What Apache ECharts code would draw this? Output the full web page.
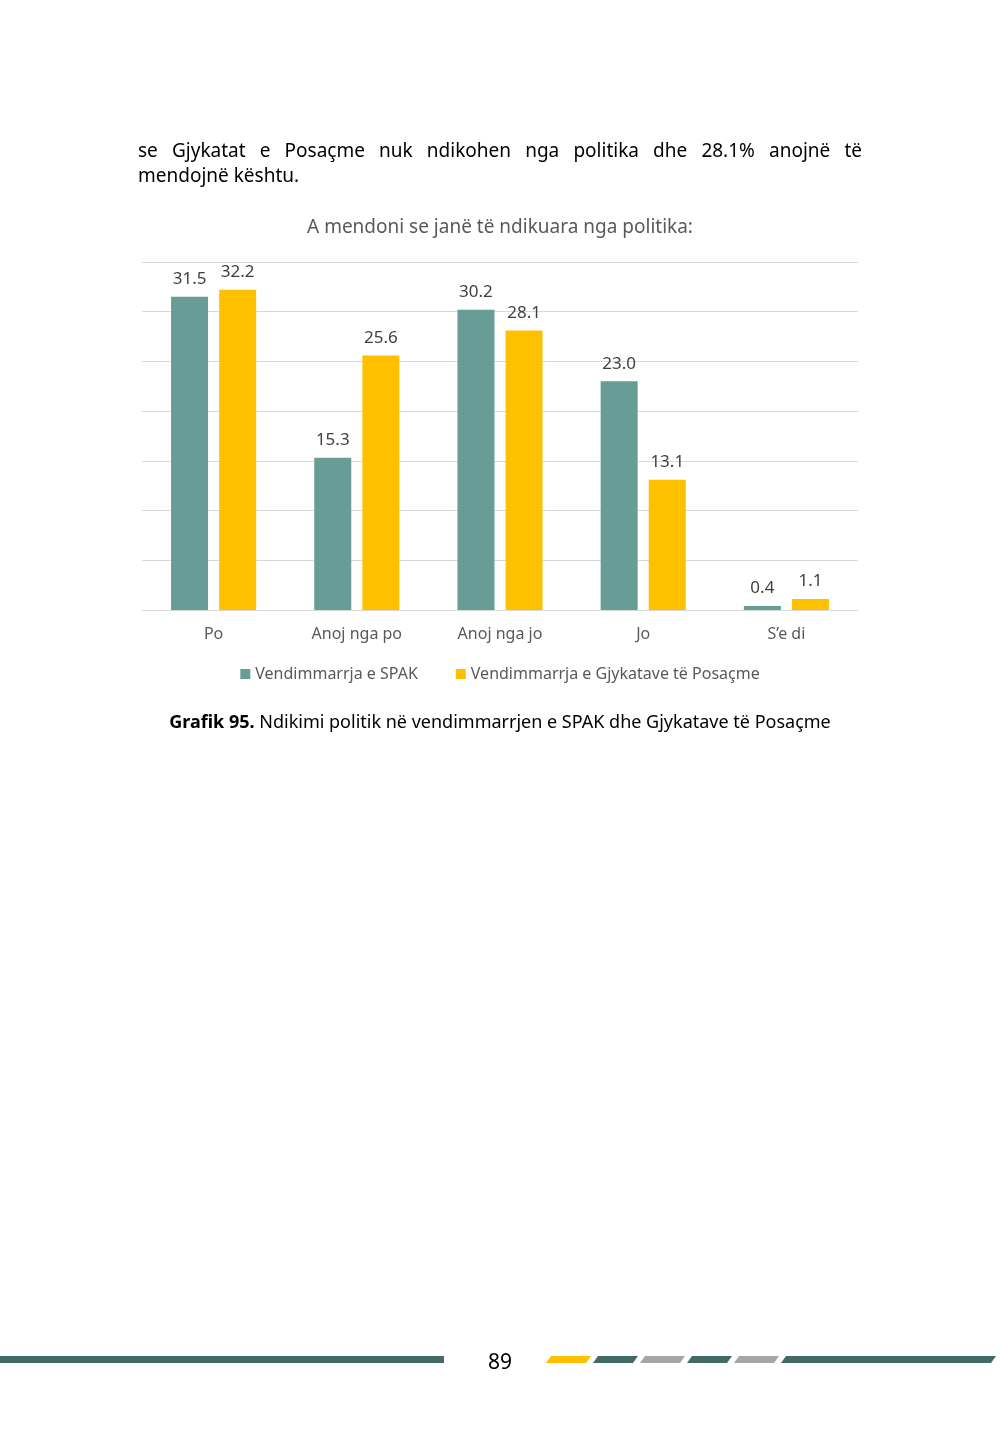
<!DOCTYPE html>
<html>
<head>
<meta charset="utf-8">
<script src="https://cdn.jsdelivr.net/npm/echarts@6/dist/echarts.min.js"></script>
<style>
  html, body { margin: 0; padding: 0; background: #fff; }
  #page { position: relative; width: 1000px; height: 1448px; overflow: hidden; }
  #chart { position: absolute; left: 0; top: 0; width: 1000px; height: 1448px; }
  .txt { position: absolute; font-family: "Noto Sans", sans-serif; color: #000; }
  #para { left: 138px; top: 138px; width: 724px; font-size: 19px; line-height: 25px; }
  #para .l1 { text-align: justify; text-align-last: justify; white-space: nowrap; }
  #caption { left: 0; width: 1000px; top: 709px; text-align: center; font-size: 18px; }
</style>
</head>
<body>
<div id="page">
  <div id="chart"></div>
  <div id="para" class="txt">
    <div class="l1">se Gjykatat e Posaçme nuk ndikohen nga politika dhe 28.1% anojnë të</div>
    <div>mendojnë kështu.</div>
  </div>
  <div id="caption" class="txt"><b>Grafik 95.</b> Ndikimi politik në vendimmarrjen e SPAK dhe Gjykatave të Posaçme</div>
</div>
<script>
var categories = ['Po', 'Anoj nga po', 'Anoj nga jo', 'Jo', 'S\u2019e di'];
var spakValues = [31.5, 15.3, 30.2, 23.0, 0.4];
var gjykataValues = [32.2, 25.6, 28.1, 13.1, 1.1];
var seriesNames = ['Vendimmarrja e SPAK', 'Vendimmarrja e Gjykatave të Posaçme'];

var chart = echarts.init(document.getElementById('chart'));
var font = '"Noto Sans", sans-serif';

// footer decoration: slanted segments
function seg(x0, x1, color) {
    return {
        type: 'polygon',
        shape: { points: [[x0, 1363], [x0 + 5, 1356], [x1 + 5, 1356], [x1, 1363]] },
        style: { fill: color }
    };
}

var option = {
    backgroundColor: '#fff',
    title: {
        text: 'A mendoni se janë të ndikuara nga politika:',
        left: 'center',
        top: 213,
        textStyle: { fontFamily: font, fontSize: 19, fontWeight: 'normal', color: '#595959' }
    },
    legend: {
        data: seriesNames,
        top: 661,
        left: 'center',
        icon: 'rect',
        itemWidth: 10,
        itemHeight: 10,
        itemGap: 38,
        textStyle: { fontFamily: font, fontSize: 16, color: '#595959' }
    },
    grid: { left: 142, right: 142, top: 262, bottom: 838, containLabel: false },
    xAxis: {
        type: 'category',
        data: categories,
        axisLine: { lineStyle: { color: '#D9D9D9', width: 1 } },
        axisTick: { show: false },
        axisLabel: { fontFamily: font, fontSize: 16, color: '#595959', margin: 16 }
    },
    yAxis: {
        type: 'value',
        min: 0,
        max: 35,
        interval: 5,
        axisLabel: { show: false },
        axisLine: { show: false },
        axisTick: { show: false },
        splitLine: { lineStyle: { color: '#D9D9D9', width: 1 } }
    },
    graphic: [
        { type: 'rect', shape: { x: 0, y: 1356, width: 444, height: 7 }, style: { fill: '#426A66' } },
        { type: 'text', left: 488, top: 1353, style: { text: '89', fontFamily: '"Liberation Sans Narrow", "Noto Sans", sans-serif', fontSize: 21, fill: '#000' } },
        seg(546, 586, '#FFC000'),
        seg(593, 633, '#426A66'),
        seg(640, 680, '#A6A6A6'),
        seg(687, 727, '#426A66'),
        seg(734, 774, '#A6A6A6'),
        seg(781, 991, '#426A66')
    ],
    series: [
        {
            name: seriesNames[0],
            type: 'bar',
            data: spakValues,
            barWidth: 37,
            barGap: '30%',
            itemStyle: { color: '#679D96' },
            label: {
                show: true, position: 'top', distance: 9,
                fontFamily: font, fontSize: 17, color: '#404040',
                formatter: function (p) { return p.value.toFixed(1); }
            }
        },
        {
            name: seriesNames[1],
            type: 'bar',
            data: gjykataValues,
            barWidth: 37,
            itemStyle: { color: '#FFC000' },
            label: {
                show: true, position: 'top', distance: 9,
                fontFamily: font, fontSize: 17, color: '#404040',
                formatter: function (p) { return p.value.toFixed(1); }
            }
        }
    ]
};
chart.setOption(option);
</script>
</body>
</html>
